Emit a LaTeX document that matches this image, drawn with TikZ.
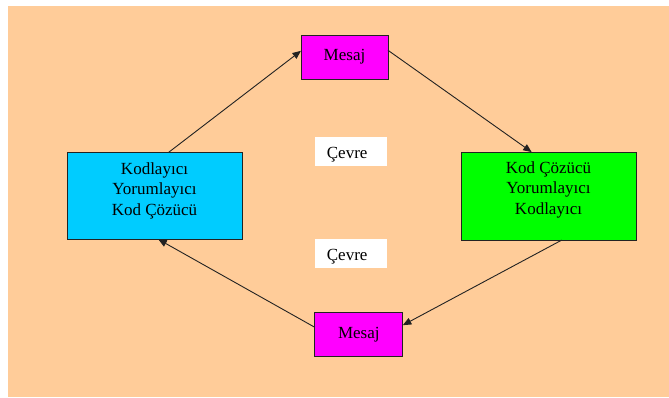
\documentclass[tikz,border=0pt]{standalone}
\usepackage{fontspec}
\setmainfont{Liberation Serif}
\usetikzlibrary{arrows.meta,calc}
\definecolor{peach}{HTML}{FFCC99}
\definecolor{skyb}{HTML}{00CCFF}
\definecolor{grn}{HTML}{00FF00}
\definecolor{mag}{HTML}{FF00FF}
\definecolor{edge}{HTML}{222222}
\begin{document}
\begin{tikzpicture}[x=1pt,y=-1pt,
  box/.style={draw=edge,line width=0.9pt,inner sep=0pt,outer sep=0pt},
  txt/.style={font=\fontsize{17}{20.5}\selectfont,align=center,inner sep=0pt},
  env/.style={fill=white,inner sep=0pt,outer sep=0pt},
  conn/.style={draw=edge,line width=0.9pt,-{Triangle[length=8.5pt,width=7pt]}}]
\useasboundingbox (0,0) rectangle (669,397);
\fill[white] (0,0) rectangle (669,397);
\fill[peach] (8,6) rectangle (669,397);
% boxes
\node[box,fill=mag,minimum width=87pt,minimum height=44pt] (m1) at (344.5,57.3) {};
\node[box,fill=mag,minimum width=88pt,minimum height=44pt] (m2) at (358.8,334.7) {};
\node[box,fill=skyb,minimum width=175pt,minimum height=87pt] (enc) at (154.5,195.8) {};
\node[box,fill=grn,minimum width=175pt,minimum height=88pt] (dec) at (549,196.1) {};
\node[env,minimum width=72pt,minimum height=28.5pt] (c1) at (351.2,151.6) {};
\node[env,minimum width=72pt,minimum height=28.5pt] (c2) at (351.2,253.5) {};
% texts
\node[txt,anchor=base] (m1t) at (344.5,60.5) {Mesaj};
\node[txt,anchor=base] (m2t) at (358.8,338) {Mesaj};
\node[txt,anchor=base] (c1t) at (347.2,158.5) {Çevre};
\node[txt,anchor=base] (c2t) at (347.2,260.5) {Çevre};
\node[txt,anchor=base] (enct) at (154.5,215) {Kodlayıcı\\Yorumlayıcı\\Kod Çözücü};
\node[txt,anchor=base] (dect) at (548.5,214) {Kod Çözücü\\Yorumlayıcı\\Kodlayıcı};
% connectors
\draw[conn] ([xshift=14.2pt]enc.north) -- ([yshift=6.5pt]m1.west);
\draw[conn] ([yshift=7pt]m1.east) -- ([xshift=-17.3pt]dec.north);
\draw[conn] ([xshift=12.7pt]dec.south) -- ([yshift=9.5pt]m2.east);
\draw[conn] ([yshift=7.4pt]m2.west) -- ([xshift=3.8pt]enc.south);
\end{tikzpicture}
\end{document}
